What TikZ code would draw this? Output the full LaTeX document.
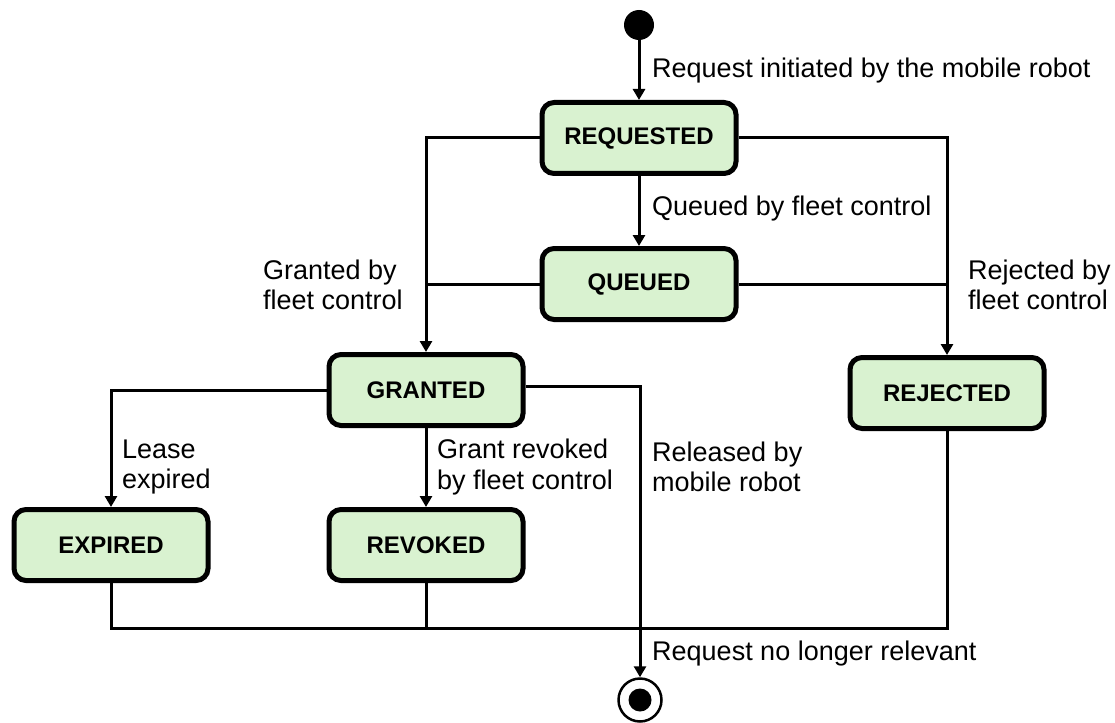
\documentclass[tikz,border=0pt]{standalone}
\usepackage{fontspec}
\setmainfont{Liberation Sans}
\usetikzlibrary{arrows.meta,calc}
\definecolor{statefill}{RGB}{217,242,208}
\tikzset{
  state/.style={draw=black, fill=statefill, line width=5pt, rounded corners=12pt,
    minimum width=194pt, minimum height=71pt, inner sep=0pt,
    font=\fontsize{24}{28}\selectfont\bfseries},
  flow/.style={line width=3pt, -{Triangle[length=11pt,width=12pt]}},
  joint/.style={line width=3pt},
  lbl/.style={anchor=west, align=left, inner sep=0pt,
    font=\fontsize{27}{30.5}\selectfont},
}
\begin{document}
\begin{tikzpicture}[x=1pt, y=-1pt]
  \useasboundingbox (0,0) rectangle (1115,722);

  % pseudo-states
  \node (start) [circle, fill=black, minimum size=30pt, inner sep=0pt] at (639,25) {};
  \node (stop) [circle, draw=black, line width=2.5pt, minimum size=43pt, inner sep=0pt] at (640,700) {};
  \fill[black] (stop.center) circle (11.5pt);

  % states
  \node (req) [state] at (639,138) {REQUESTED};
  \node (que) [state] at (639,284) {QUEUED};
  \node (gra) [state] at (426,390) {GRANTED};
  \node (rej) [state] at (947,393) {REJECTED};
  \node (exp) [state] at (111,545) {EXPIRED};
  \node (rev) [state] at (426,545) {REVOKED};

  \coordinate (bus) at (640,628);

  % transitions
  \draw[flow] (start) -- (req.north);
  \draw[flow] (req.south) -- (que.north);
  \draw[flow] (req.west) -| (gra.north);
  \draw[joint] (que.west) -- (gra.north |- que.west);
  \draw[flow] (req.east) -| (rej.north);
  \draw[joint] (que.east) -- (rej.north |- que.east);
  \draw[flow] (gra.west) -| (exp.north);
  \draw[flow] (gra.south) -- (rev.north);
  \draw[flow] ([yshift=4pt]gra.east) -| (stop.north);
  \draw[joint] (exp.south) -- (exp.south |- bus) -- (rej.south |- bus) -- (rej.south);
  \draw[joint] (rev.south) -- (rev.south |- bus);

  % transition labels
  \node (l1) [lbl] at (652,71) {Request initiated by the mobile robot};
  \node (l2) [lbl] at (652,209) {Queued by fleet control};
  \node (l3) [lbl] at (263,285) {Granted by\\fleet control};
  \node (l4) [lbl] at (968,285) {Rejected by\\fleet control};
  \node (l5) [lbl] at (122,467) {Lease\\expired};
  \node (l6) [lbl] at (437,467) {Grant revoked\\by fleet control};
  \node (l7) [lbl] at (652,467) {Released by\\mobile robot};
  \node (l8) [lbl] at (652,654) {Request no longer relevant};
\end{tikzpicture}
\end{document}
